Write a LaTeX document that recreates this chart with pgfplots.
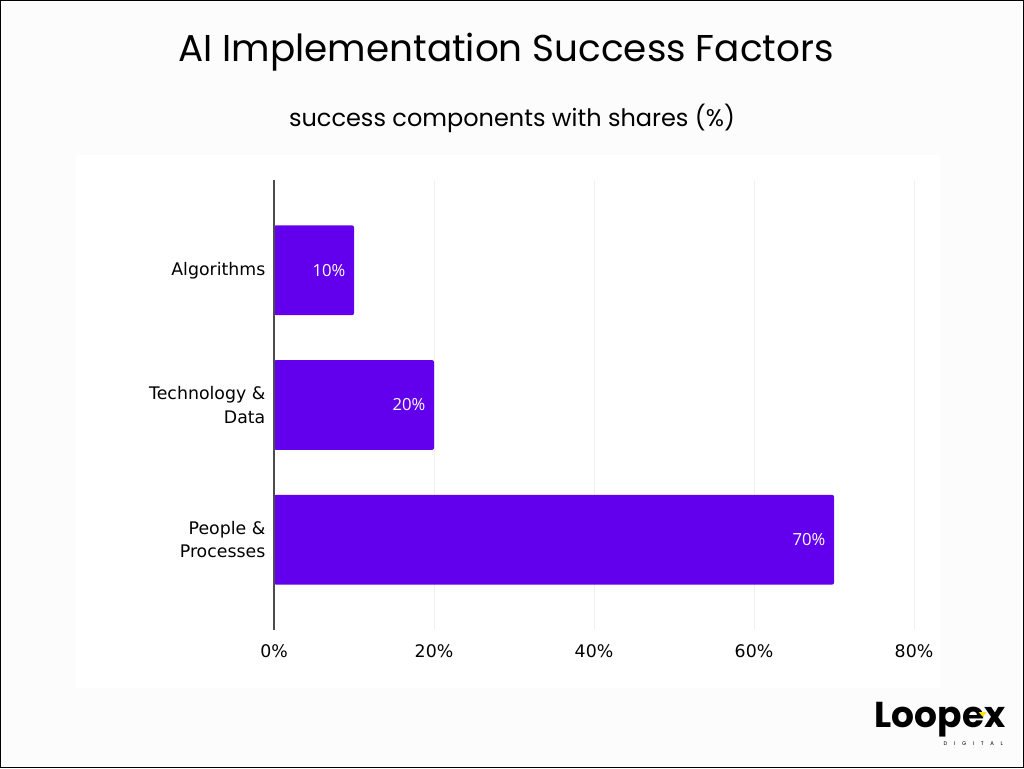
\documentclass[border=0pt]{standalone}
\usepackage{fontspec}
\setmainfont{DejaVu Sans}
\newfontfamily\pop{Poppins}
\newfontfamily\opensans{Open Sans}
\usepackage{pgfplots}
\pgfplotsset{compat=1.18}
\definecolor{barpurple}{RGB}{98,0,238}
\definecolor{bgcol}{RGB}{252,252,252}
\begin{document}
\begin{tikzpicture}
\useasboundingbox (0,0) rectangle (768pt,576pt);
\fill[bgcol] (0,0) rectangle (768pt,576pt);
\fill[white] (57pt,60pt) rectangle (705pt,459.75pt);
\node[font=\pop\fontsize{28}{32}\selectfont] at (379.5pt,537pt) {AI Implementation Success Factors};
\node[font=\pop\fontsize{18}{22}\selectfont] at (384pt,487.5pt) {success components with shares (\%)};
\begin{axis}[
  at={(205.5pt,103.5pt)}, anchor=south west,
  scale only axis, width=480pt, height=337.5pt,
  xbar, bar width=0.667,
  xmin=0, xmax=80, ymin=-0.67, ymax=2.67, y dir=reverse,
  xtick={0,20,40,60,80}, xticklabels={0\%,20\%,40\%,60\%,80\%},
  ytick={0,1,2}, yticklabels={Algorithms,{Technology \&\\Data},{People \&\\Processes}},
  y tick label style={align=right, font=\fontsize{13}{17.5}\selectfont, xshift=-3pt},
  x tick label style={font=\fontsize{13}{15}\selectfont, yshift=-7.5pt},
  major tick length=0pt,
  axis line style={draw=none},
  xmajorgrids, grid style={color=black!6, line width=0.75pt},
  point meta=explicit symbolic,
  nodes near coords,
  every node near coord/.append style={anchor=east, xshift=-3pt, text=white, font=\opensans\fontsize{12.5}{14}\selectfont},
  clip=false,
]
\addplot[fill=barpurple, draw=none, rounded corners=1.5pt] coordinates {(10,0) [10\%] (20,1) [20\%] (70,2) [70\%]};
\draw[black!70, line width=0.9pt] (axis cs:0,-0.67) -- (axis cs:0,2.67);
\end{axis}
% logo
\node[font=\pop\bfseries\fontsize{27}{30}\selectfont, anchor=center] at (705pt,36pt) {Loopex};
\node[font=\pop\fontsize{4}{5}\selectfont, anchor=center] at (730pt,18.5pt) {D\hspace{5pt}I\hspace{5pt}G\hspace{5pt}I\hspace{5pt}T\hspace{5pt}A\hspace{5pt}L};
\fill[yellow!90!orange] (734pt,42pt) -- (740pt,42pt) -- (737pt,38.5pt) -- cycle;
\draw[black, line width=0.75pt] (0.375pt,0.375pt) rectangle (767.625pt,575.625pt);
\end{tikzpicture}
\end{document}
